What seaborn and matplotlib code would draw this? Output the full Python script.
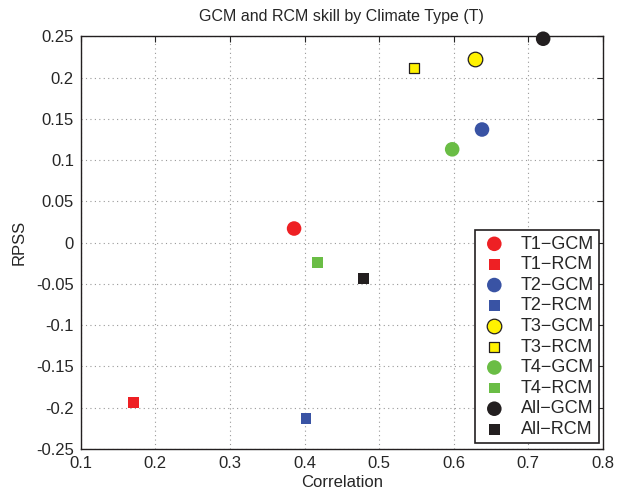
import matplotlib
matplotlib.use("Agg")
import matplotlib.pyplot as plt
import seaborn as sns
import pandas as pd

labels = ["T1\u2212GCM", "T1\u2212RCM", "T2\u2212GCM", "T2\u2212RCM", "T3\u2212GCM",
          "T3\u2212RCM", "T4\u2212GCM", "T4\u2212RCM", "All\u2212GCM", "All\u2212RCM"]
correlation = [0.386, 0.171, 0.638, 0.402, 0.628, 0.547, 0.598, 0.417, 0.720, 0.479]
rpss = [0.017, -0.194, 0.137, -0.213, 0.222, 0.211, 0.113, -0.024, 0.247, -0.044]

colors = ["#EE2024", "#EE2024", "#3953A4", "#3953A4", "#FFF200",
          "#FFF200", "#6ABD45", "#6ABD45", "#231F20", "#231F20"]
markers = ["o", "s"] * 5
edges = ["none", "none", "none", "none", "#231F20", "#231F20", "none", "none", "none", "none"]
sizes = [110, 60] * 5

sns.set_style("white")
plt.rcParams["font.family"] = ["Liberation Sans", "DejaVu Sans"]
plt.rcParams["axes.unicode_minus"] = False

df = pd.DataFrame({"label": labels, "Correlation": correlation, "RPSS": rpss})

fig = plt.figure(figsize=(6.17, 4.90), dpi=100)
ax = fig.add_axes([0.131, 0.084, 0.846, 0.842])

for i, lab in enumerate(labels):
    sub = df[df["label"] == lab]
    sns.scatterplot(data=sub, x="Correlation", y="RPSS", ax=ax, marker=markers[i],
                    color=colors[i], edgecolor=edges[i], linewidth=0.9 if edges[i] != "none" else 0,
                    s=sizes[i], label=lab, zorder=3, clip_on=False)

ax.set_xlim(0.1, 0.8)
ax.set_ylim(-0.25, 0.25)
xt = [0.1, 0.2, 0.3, 0.4, 0.5, 0.6, 0.7, 0.8]
yt = [-0.25, -0.2, -0.15, -0.1, -0.05, 0, 0.05, 0.1, 0.15, 0.2, 0.25]
ax.set_xticks(xt)
ax.set_xticklabels(["0.1", "0.2", "0.3", "0.4", "0.5", "0.6", "0.7", "0.8"])
ax.set_yticks(yt)
ax.set_yticklabels(["-0.25", "-0.2", "-0.15", "-0.1", "-0.05", "0", "0.05", "0.1", "0.15", "0.2", "0.25"])
ax.grid(True, linestyle=(0, (1, 3)), color="#999999", linewidth=0.8)
ax.tick_params(direction="in", top=True, right=True, length=4, labelsize=12, width=0.8, pad=5)
for sp in ax.spines.values():
    sp.set_color("#231F20")
    sp.set_linewidth(1.0)

ax.set_xlabel("Correlation", fontsize=12, labelpad=3)
ax.set_ylabel("RPSS", fontsize=12, labelpad=7)
ax.set_title("GCM and RCM skill by Climate Type (T)", fontsize=11.5, pad=11)

leg = ax.legend(loc="lower right", bbox_to_anchor=(0.993, 0.013), fontsize=13,
                frameon=True, fancybox=False, edgecolor="#231F20", framealpha=1,
                handletextpad=0.7, borderpad=0.3, labelspacing=0.2, handlelength=1.5,
                borderaxespad=0.0)
leg.get_frame().set_linewidth(1.2)

fig.savefig("out.png", dpi=100)
